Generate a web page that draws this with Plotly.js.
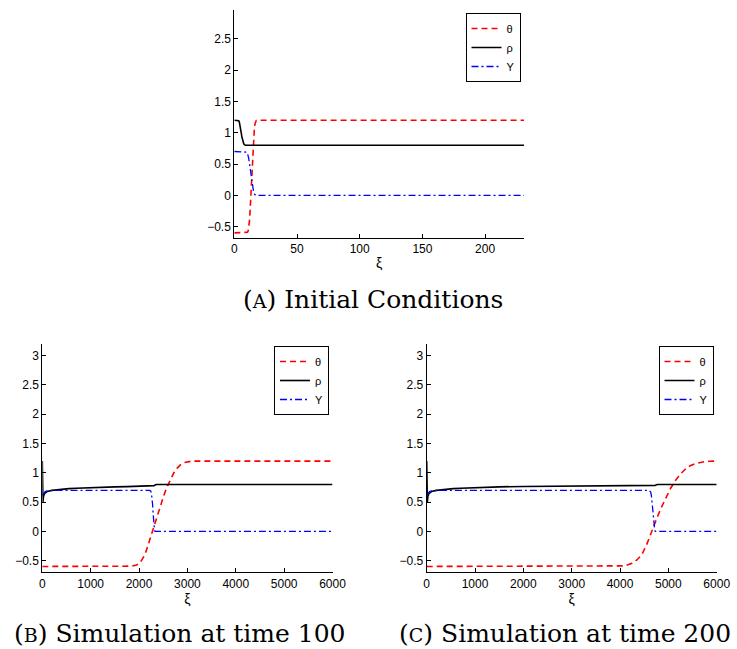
<!DOCTYPE html>
<html>
<head>
<meta charset="utf-8">
<script src="https://cdn.plot.ly/plotly-3.0.1.min.js"></script>
<style>
  html, body { margin: 0; padding: 0; background: #fff; }
  #fig { width: 737px; height: 649px; }
</style>
</head>
<body>
<div id="fig"></div>
<script>
// ---- (A) initial conditions ----
const thetaA_x = [0, 10, 10.5, 11, 11.5, 12, 12.5, 13, 13.5, 14, 14.5, 15, 15.5, 16, 16.5, 17, 17.5, 18, 231];
const thetaA_y = [-0.6, -0.6, -0.59, -0.57, -0.52, -0.43, -0.28, -0.08, 0.15, 0.38, 0.6, 0.8, 0.96, 1.07, 1.14, 1.18, 1.195, 1.2, 1.2];
const rhoA_x = [0, 3, 3.5, 4, 4.5, 5, 5.5, 6, 6.5, 7, 7.5, 8, 8.5, 9, 231];
const rhoA_y = [1.2, 1.2, 1.19, 1.17, 1.13, 1.07, 1.0, 0.94, 0.89, 0.85, 0.825, 0.81, 0.802, 0.8, 0.8];
const YA_x = [0, 9, 10, 10.5, 11, 11.5, 12, 12.5, 13, 13.5, 14, 14.5, 15, 15.5, 16, 16.5, 17, 231];
const YA_y = [0.7, 0.7, 0.69, 0.67, 0.64, 0.59, 0.52, 0.44, 0.36, 0.28, 0.2, 0.13, 0.08, 0.04, 0.02, 0.005, 0, 0];

// ---- (B) simulation at time 100 ----
const thetaB_x = [0, 1850, 1950, 2000, 2050, 2100, 2150, 2200, 2250, 2300, 2350, 2400, 2460, 2520, 2580, 2650, 2720, 2790, 2860, 2930, 3000, 3100, 6000];
const thetaB_y = [-0.6, -0.595, -0.575, -0.55, -0.5, -0.43, -0.33, -0.2, -0.07, 0.07, 0.21, 0.34, 0.49, 0.63, 0.76, 0.89, 1.0, 1.08, 1.14, 1.175, 1.19, 1.2, 1.2];
const rhoB_x = [0, 6, 14, 25, 50, 100, 200, 300, 400, 550, 700, 850, 1000, 1250, 1500, 1750, 2000, 2290, 2310, 2330, 2360, 6000];
const rhoB_y = [1.2, 0.85, 0.5, 0.6, 0.65, 0.68, 0.7, 0.71, 0.72, 0.73, 0.737, 0.743, 0.748, 0.754, 0.759, 0.763, 0.766, 0.77, 0.78, 0.79, 0.8, 0.8];
const YB_x = [0, 30, 60, 100, 150, 200, 2220, 2240, 2255, 2270, 2280, 2290, 2300, 2310, 2320, 2330, 6000];
const YB_y = [0.62, 0.66, 0.68, 0.69, 0.697, 0.7, 0.7, 0.69, 0.66, 0.57, 0.46, 0.32, 0.18, 0.07, 0.02, 0, 0];

// ---- (C) simulation at time 200 ----
const thetaC_x = [0, 3950, 4050, 4150, 4250, 4350, 4450, 4550, 4650, 4750, 4850, 4950, 5050, 5150, 5250, 5350, 5450, 5550, 5650, 5750, 5850, 6000];
const thetaC_y = [-0.6, -0.597, -0.59, -0.575, -0.545, -0.49, -0.4, -0.23, 0.0, 0.2, 0.4, 0.58, 0.74, 0.87, 0.98, 1.06, 1.12, 1.155, 1.175, 1.19, 1.197, 1.2];
const rhoC_x = [0, 6, 14, 25, 50, 100, 200, 300, 400, 550, 700, 850, 1000, 1500, 2000, 3000, 4000, 4710, 4730, 4750, 4780, 6000];
const rhoC_y = [1.2, 0.85, 0.5, 0.6, 0.65, 0.68, 0.7, 0.71, 0.72, 0.73, 0.737, 0.743, 0.748, 0.76, 0.766, 0.772, 0.776, 0.778, 0.785, 0.795, 0.8, 0.8];
const YC_x = [0, 30, 60, 100, 150, 200, 4600, 4620, 4635, 4650, 4660, 4670, 4680, 4690, 4700, 4710, 4720, 4735, 6000];
const YC_y = [0.62, 0.66, 0.68, 0.69, 0.697, 0.7, 0.7, 0.69, 0.67, 0.6, 0.51, 0.4, 0.29, 0.18, 0.1, 0.04, 0.01, 0, 0];

// ---- tick labels ----
const yTickVals = [-0.5, 0, 0.5, 1, 1.5, 2, 2.5, 3];
const yTickText = ['\u22120.5', '0', '0.5', '1', '1.5', '2', '2.5', '3'];
const xTickValsA = [0, 50, 100, 150, 200];
const xTickTextA = ['0', '50', '100', '150', '200'];
const xTickValsBC = [0, 1000, 2000, 3000, 4000, 5000, 6000];
const xTickTextBC = ['0', '1000', '2000', '3000', '4000', '5000', '6000'];

const seriesNames = ['\u03b8', '\u03c1', 'Y'];
const captions = [
  '(<span style="font-size:19px">A</span>) Initial Conditions',
  '(<span style="font-size:19px">B</span>) Simulation at time 100',
  '(<span style="font-size:19px">C</span>) Simulation at time 200'
];

const W = 737, H = 649;
const px = v => v / W;
const py = v => 1 - v / H;

const styles = [
  { color: '#ff0000', width: 1.6, dash: '6px,4px' },
  { color: '#000000', width: 1.6, dash: 'solid' },
  { color: '#0000ff', width: 1.3, dash: '7px,3px,2px,3px' }
];

function makeTraces(sets, xa, ya, leg) {
  return sets.map((s, i) => ({
    x: s[0], y: s[1], name: seriesNames[i], type: 'scatter', mode: 'lines',
    xaxis: xa, yaxis: ya, legend: leg, showlegend: true,
    line: Object.assign({ shape: 'linear' }, styles[i])
  }));
}

const data = [].concat(
  makeTraces([[thetaA_x, thetaA_y], [rhoA_x, rhoA_y], [YA_x, YA_y]], 'x', 'y', 'legend'),
  makeTraces([[thetaB_x, thetaB_y], [rhoB_x, rhoB_y], [YB_x, YB_y]], 'x2', 'y2', 'legend2'),
  makeTraces([[thetaC_x, thetaC_y], [rhoC_x, rhoC_y], [YC_x, YC_y]], 'x3', 'y3', 'legend3')
);

const tickFont = { family: 'Liberation Sans, Arial, sans-serif', size: 12, color: '#000' };

function xAxis(domain, range, vals, text, anchor) {
  return {
    domain: domain, range: range, anchor: anchor,
    tickmode: 'array', tickvals: vals, ticktext: text,
    ticks: 'inside', ticklen: 4, tickcolor: '#000', tickwidth: 1,
    showline: true, linecolor: '#000', linewidth: 1,
    showgrid: false, zeroline: false, tickfont: tickFont,
    title: { text: '\u03be', font: { family: 'Liberation Sans, Arial, sans-serif', size: 14, color: '#000' }, standoff: 2 }
  };
}
function yAxis(domain, range, anchor) {
  return {
    domain: domain, range: range, anchor: anchor,
    tickmode: 'array', tickvals: yTickVals, ticktext: yTickText,
    ticks: 'inside', ticklen: 4, tickcolor: '#000', tickwidth: 1,
    showline: true, linecolor: '#000', linewidth: 1,
    showgrid: false, zeroline: false, tickfont: tickFont
  };
}
function legendAt(xr, yt) {
  return {
    x: xr, y: yt, xanchor: 'right', yanchor: 'top',
    bgcolor: '#fff', bordercolor: '#000', borderwidth: 1,
    font: { family: 'Liberation Sans, Arial, sans-serif', size: 11, color: '#000' },
    itemwidth: 30, tracegroupgap: 0, traceorder: 'normal'
  };
}

const capFont = { family: 'DejaVu Serif, serif', size: 25, color: '#000' };

const layout = {
  width: W, height: H,
  margin: { l: 0, r: 0, t: 0, b: 0 },
  paper_bgcolor: '#fff', plot_bgcolor: '#fff',
  xaxis: xAxis([px(234.3), px(524)], [0, 231], xTickValsA, xTickTextA, 'y'),
  yaxis: yAxis([py(238), py(10)], [-0.682, 2.96], 'x'),
  xaxis2: xAxis([px(42.3), px(332.5)], [0, 6000], xTickValsBC, xTickTextBC, 'y2'),
  yaxis2: yAxis([py(572.3), py(344)], [-0.7, 3.2], 'x2'),
  xaxis3: xAxis([px(426.7), px(716.7)], [0, 6000], xTickValsBC, xTickTextBC, 'y3'),
  yaxis3: yAxis([py(572.3), py(344)], [-0.7, 3.2], 'x3'),
  legend: legendAt(px(520.5), py(13)),
  legend2: legendAt(px(329), py(346)),
  legend3: legendAt(px(713.5), py(346)),
  annotations: [
    { text: captions[0], x: px(372.5), y: py(299), xref: 'paper', yref: 'paper', xanchor: 'center', yanchor: 'middle', showarrow: false, font: capFont },
    { text: captions[1], x: px(180), y: py(633), xref: 'paper', yref: 'paper', xanchor: 'center', yanchor: 'middle', showarrow: false, font: capFont },
    { text: captions[2], x: px(565), y: py(633), xref: 'paper', yref: 'paper', xanchor: 'center', yanchor: 'middle', showarrow: false, font: capFont }
  ],
  showlegend: true
};

Plotly.newPlot('fig', data, layout, { staticPlot: true, displayModeBar: false });
</script>
</body>
</html>
